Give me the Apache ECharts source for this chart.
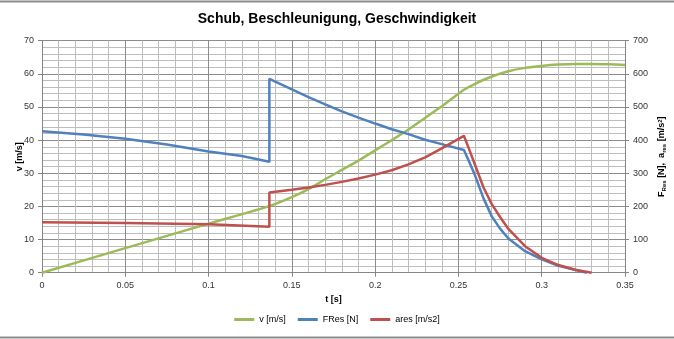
<!DOCTYPE html>
<html><head><meta charset="utf-8">
<script src="https://cdn.jsdelivr.net/npm/echarts@6/dist/echarts.min.js"></script>
<style>html,body{margin:0;padding:0;background:#fff}#c{width:674px;height:339px}</style>
</head><body><div id="c"></div>
<script>
// Geschwindigkeit v [m/s] (left axis)
const tV = [0, 0.05, 0.1, 0.1365, 0.15, 0.16, 0.17, 0.18, 0.19, 0.20, 0.21, 0.22, 0.23, 0.24, 0.25, 0.2533, 0.26, 0.27, 0.28, 0.29, 0.30, 0.31, 0.32, 0.33, 0.34, 0.35];
const vVals = [0, 7.4, 14.8, 20.1, 22.8, 25.2, 28.2, 31.0, 33.8, 36.9, 40.0, 43.2, 46.7, 50.2, 54.0, 55.2, 57.0, 59.2, 60.8, 61.8, 62.4, 62.8, 63.0, 63.0, 62.9, 62.7];
// FRes [N] (right axis)
const tF = [0, 0.025, 0.05, 0.075, 0.1, 0.12, 0.1365, 0.1365, 0.15, 0.16, 0.17, 0.18, 0.19, 0.20, 0.21, 0.22, 0.23, 0.24, 0.2533, 0.256, 0.26, 0.265, 0.27, 0.275, 0.28, 0.29, 0.30, 0.31, 0.32, 0.327];
const fVals = [427, 417, 404, 387, 366, 352, 335, 585, 553, 530, 508, 487, 468, 450, 433, 418, 401, 388, 370, 340, 293, 225, 170, 133, 103, 65, 40, 21, 9, 0];
// ares [m/s2] (right axis)
const tA = [0, 0.05, 0.1, 0.1365, 0.1365, 0.15, 0.16, 0.17, 0.18, 0.19, 0.20, 0.21, 0.22, 0.23, 0.24, 0.2533, 0.256, 0.26, 0.265, 0.27, 0.275, 0.28, 0.29, 0.30, 0.31, 0.32, 0.33];
const aVals = [152, 150, 146, 139, 242, 250, 257, 265, 274, 284, 296, 309, 327, 348, 375, 413, 378, 325, 258, 207, 168, 132, 80, 45, 23, 9, 0];
const xTicks = {min: 0, max: 0.35, interval: 0.05};
const yLeft = {min: 0, max: 70, interval: 10};
const yRight = {min: 0, max: 700, interval: 100};
const seriesNames = ['v [m/s]', 'FRes [N]', 'ares [m/s2]'];

const pairs = (t, v) => t.map((x, i) => [x, v[i]]);
const FONT = 'Liberation Sans';
const axisCol = '#868686';
const chart = echarts.init(document.getElementById('c'));
chart.setOption({
  animation: false,
  backgroundColor: '#fff',
  title: {text: 'Schub, Beschleunigung, Geschwindigkeit', left: 'center', top: 7,
    textStyle: {fontFamily: FONT, fontSize: 14, fontWeight: 'bold', color: '#000'}},
  legend: {bottom: 10, left: 'center', icon: 'rect', itemWidth: 20, itemHeight: 3, itemGap: 12,
    textStyle: {fontFamily: FONT, fontSize: 9, color: '#000'}, data: seriesNames},
  grid: {left: 42, right: 49, top: 40.7, bottom: 66.3, containLabel: false, outerBoundsMode: 'none'},
  xAxis: {type: 'value', min: xTicks.min, max: xTicks.max, interval: xTicks.interval,
    name: 't [s]', nameLocation: 'middle', nameGap: 22, nameMoveOverlap: false,
    nameTextStyle: {fontFamily: FONT, fontSize: 9, fontWeight: 'bold', color: '#000'},
    axisLine: {lineStyle: {color: axisCol}}, axisTick: {show: true, length: 4, lineStyle: {color: axisCol}},
    axisLabel: {fontFamily: FONT, fontSize: 9, color: '#333', margin: 8},
    splitLine: {show: true, lineStyle: {color: '#8c8c8c', width: 1}},
    minorTick: {show: false, splitNumber: 5},
    minorSplitLine: {show: true, lineStyle: {color: '#bdbdbd', width: 1}}},
  yAxis: [
    {type: 'value', min: yLeft.min, max: yLeft.max, interval: yLeft.interval, position: 'left',
     name: 'v [m/s]', nameLocation: 'middle', nameGap: 18, nameRotate: 90, nameMoveOverlap: false,
     nameTextStyle: {fontFamily: FONT, fontSize: 9, fontWeight: 'bold', color: '#000'},
     axisLine: {show: true, lineStyle: {color: axisCol}}, axisTick: {show: true, length: 4, lineStyle: {color: axisCol}},
     axisLabel: {fontFamily: FONT, fontSize: 9, color: '#333', margin: 8},
     splitLine: {show: true, lineStyle: {color: '#8c8c8c', width: 1}},
     minorTick: {show: false, splitNumber: 5},
     minorSplitLine: {show: true, lineStyle: {color: '#bdbdbd', width: 1}}},
    {type: 'value', min: yRight.min, max: yRight.max, interval: yRight.interval, position: 'right',
     name: '{b|F}{s|Res}{b| [N],  a}{s|res}{b| [m/s}{p|2}{b|]}', nameLocation: 'middle', nameGap: 29, nameRotate: 90, nameMoveOverlap: false,
     nameTextStyle: {fontFamily: FONT, fontSize: 9, fontWeight: 'bold', color: '#000',
       rich: {b: {fontFamily: FONT, fontSize: 9, fontWeight: 'bold', color: '#000', height: 12},
              s: {fontFamily: FONT, fontSize: 6, fontWeight: 'bold', color: '#000', verticalAlign: 'bottom', height: 12, lineHeight: 16},
              p: {fontFamily: FONT, fontSize: 6, fontWeight: 'bold', color: '#000', verticalAlign: 'top', height: 12, lineHeight: 8}}},
     axisLine: {show: true, lineStyle: {color: axisCol}}, axisTick: {show: true, length: 4, lineStyle: {color: axisCol}},
     axisLabel: {fontFamily: FONT, fontSize: 9, color: '#333', margin: 8},
     splitLine: {show: false}}
  ],
  series: [
    {name: seriesNames[0], type: 'line', yAxisIndex: 0, data: pairs(tV, vVals), showSymbol: false, symbol: 'none',
     smooth: 0.2, lineStyle: {color: '#9BBB59', width: 2.5}, itemStyle: {color: '#9BBB59'}},
    {name: seriesNames[1], type: 'line', yAxisIndex: 1, data: pairs(tF, fVals), showSymbol: false, symbol: 'none',
     lineStyle: {color: '#4F81BD', width: 2.5}, itemStyle: {color: '#4F81BD'}},
    {name: seriesNames[2], type: 'line', yAxisIndex: 1, data: pairs(tA, aVals), showSymbol: false, symbol: 'none',
     lineStyle: {color: '#C0504D', width: 2.5}, itemStyle: {color: '#C0504D'}}
  ],
  graphic: [
    {type: 'line', shape: {x1: 0, y1: 1.5, x2: 674, y2: 1.5}, style: {stroke: '#8c8c8c', lineWidth: 2}},
    {type: 'line', shape: {x1: 0, y1: 337.5, x2: 674, y2: 337.5}, style: {stroke: '#8c8c8c', lineWidth: 2}}
  ]
});
</script></body></html>
